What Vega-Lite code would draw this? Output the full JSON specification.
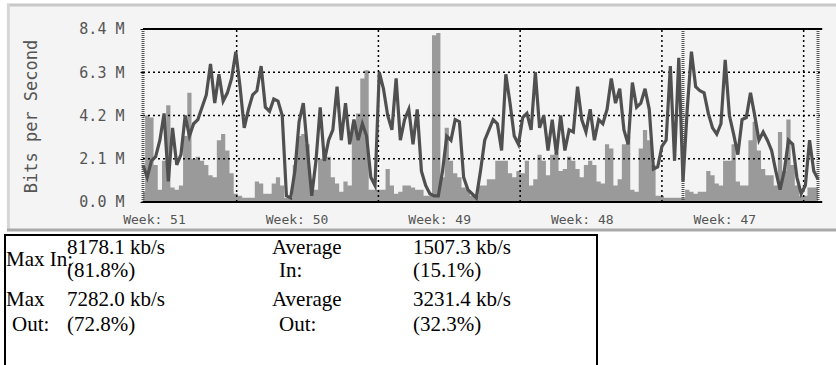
{
  "$schema": "https://vega.github.io/schema/vega-lite/v6.json",
  "padding": 0,
  "background": "white",
  "spacing": 0,
  "config": {"view": {"stroke": null}},
  "datasets": {
    "traffic": [
      {"h":0,"in":0.5,"out":1.8},{"h":5,"in":4.2,"out":1.2},{"h":10,"in":4.1,"out":2.0},{"h":15,"in":1.8,"out":2.2},
      {"h":20,"in":0.6,"out":3.0},{"h":25,"in":2.0,"out":4.3},{"h":30,"in":4.7,"out":1.0},{"h":35,"in":0.7,"out":3.6},
      {"h":40,"in":0.6,"out":1.8},{"h":45,"in":0.8,"out":2.3},{"h":50,"in":3.2,"out":4.2},{"h":55,"in":5.3,"out":3.2},
      {"h":60,"in":2.1,"out":3.8},{"h":65,"in":2.2,"out":4.0},{"h":70,"in":2.0,"out":4.6},{"h":75,"in":1.8,"out":5.2},
      {"h":80,"in":1.3,"out":6.7},{"h":85,"in":1.2,"out":4.8},{"h":90,"in":3.0,"out":6.2},{"h":95,"in":3.3,"out":4.9},
      {"h":100,"in":2.5,"out":5.3},{"h":105,"in":1.4,"out":6.0},{"h":110,"in":0.4,"out":7.3},{"h":115,"in":0.3,"out":5.6},
      {"h":120,"in":0.2,"out":3.6},{"h":125,"in":0.2,"out":4.5},{"h":130,"in":0.2,"out":5.2},{"h":135,"in":1.0,"out":5.4},
      {"h":140,"in":0.9,"out":6.6},{"h":145,"in":0.4,"out":4.6},{"h":150,"in":0.4,"out":4.4},{"h":155,"in":0.9,"out":5.0},
      {"h":160,"in":1.2,"out":4.9},{"h":165,"in":0.8,"out":4.2},{"h":170,"in":0.2,"out":0.3},{"h":175,"in":0.2,"out":0.2},
      {"h":180,"in":1.8,"out":1.5},{"h":185,"in":3.2,"out":3.9},{"h":190,"in":3.3,"out":4.8},{"h":195,"in":2.8,"out":2.5},
      {"h":200,"in":1.0,"out":0.3},{"h":205,"in":0.6,"out":2.0},{"h":210,"in":2.1,"out":4.6},{"h":215,"in":2.4,"out":2.0},
      {"h":220,"in":2.2,"out":3.0},{"h":225,"in":1.2,"out":3.5},{"h":230,"in":0.9,"out":5.6},{"h":235,"in":0.5,"out":3.0},
      {"h":240,"in":1.0,"out":4.8},{"h":245,"in":0.8,"out":2.8},{"h":250,"in":3.8,"out":4.0},{"h":255,"in":4.3,"out":3.0},
      {"h":260,"in":6.0,"out":3.8},{"h":265,"in":6.4,"out":3.2},{"h":270,"in":0.6,"out":1.2},{"h":275,"in":0.6,"out":0.8},
      {"h":280,"in":0.6,"out":6.3},{"h":285,"in":0.6,"out":5.5},{"h":290,"in":1.6,"out":4.2},{"h":295,"in":0.8,"out":3.5},
      {"h":300,"in":0.4,"out":6.0},{"h":305,"in":0.5,"out":3.0},{"h":310,"in":0.8,"out":4.0},{"h":315,"in":0.8,"out":4.5},
      {"h":320,"in":0.7,"out":2.8},{"h":325,"in":0.6,"out":4.5},{"h":330,"in":0.6,"out":1.5},{"h":335,"in":0.3,"out":0.8},
      {"h":340,"in":0.3,"out":0.4},{"h":345,"in":8.1,"out":0.3},{"h":350,"in":8.2,"out":0.3},{"h":355,"in":1.2,"out":1.5},
      {"h":360,"in":3.6,"out":3.2},{"h":365,"in":2.0,"out":3.0},{"h":370,"in":1.4,"out":4.0},{"h":375,"in":1.2,"out":3.9},
      {"h":380,"in":0.7,"out":1.2},{"h":385,"in":0.6,"out":0.6},{"h":390,"in":0.3,"out":0.4},{"h":395,"in":0.3,"out":0.2},
      {"h":400,"in":0.8,"out":1.5},{"h":405,"in":0.8,"out":3.0},{"h":410,"in":1.1,"out":3.5},{"h":415,"in":1.1,"out":4.0},
      {"h":420,"in":2.0,"out":3.8},{"h":425,"in":2.0,"out":2.5},{"h":430,"in":2.0,"out":6.2},{"h":435,"in":1.4,"out":4.8},
      {"h":440,"in":1.2,"out":3.2},{"h":445,"in":1.5,"out":2.8},{"h":450,"in":1.4,"out":4.1},{"h":455,"in":2.0,"out":4.3},
      {"h":460,"in":0.8,"out":3.5},{"h":465,"in":1.1,"out":6.3},{"h":470,"in":2.3,"out":3.6},{"h":475,"in":2.0,"out":4.2},
      {"h":480,"in":1.3,"out":2.5},{"h":485,"in":2.3,"out":4.0},{"h":490,"in":2.4,"out":2.3},{"h":495,"in":1.5,"out":4.2},
      {"h":500,"in":1.6,"out":2.5},{"h":505,"in":2.2,"out":3.5},{"h":510,"in":2.0,"out":3.4},{"h":515,"in":1.6,"out":5.6},
      {"h":520,"in":1.2,"out":4.0},{"h":525,"in":1.8,"out":3.4},{"h":530,"in":2.0,"out":4.5},{"h":535,"in":1.8,"out":3.0},
      {"h":540,"in":1.0,"out":4.0},{"h":545,"in":0.9,"out":3.8},{"h":550,"in":2.8,"out":4.5},{"h":555,"in":2.6,"out":6.0},
      {"h":560,"in":0.8,"out":4.8},{"h":565,"in":1.1,"out":5.5},{"h":570,"in":2.8,"out":3.5},{"h":575,"in":3.2,"out":2.8},
      {"h":580,"in":0.6,"out":5.8},{"h":585,"in":0.5,"out":4.6},{"h":590,"in":2.6,"out":4.8},{"h":595,"in":3.5,"out":5.5},
      {"h":600,"in":3.0,"out":4.5},{"h":605,"in":1.8,"out":1.6},{"h":610,"in":0.3,"out":1.7},{"h":615,"in":0.3,"out":2.7},
      {"h":620,"in":0.2,"out":3.0},{"h":625,"in":0.2,"out":6.6},{"h":630,"in":0.2,"out":2.0},{"h":635,"in":0.2,"out":7.0},
      {"h":640,"in":0.2,"out":1.0},{"h":645,"in":0.6,"out":4.5},{"h":650,"in":0.5,"out":7.3},{"h":655,"in":0.4,"out":5.6},
      {"h":660,"in":0.5,"out":5.4},{"h":665,"in":0.5,"out":5.3},{"h":670,"in":1.5,"out":4.3},{"h":675,"in":1.3,"out":3.6},
      {"h":680,"in":0.9,"out":3.3},{"h":685,"in":0.8,"out":3.8},{"h":690,"in":2.0,"out":6.9},{"h":695,"in":2.0,"out":4.2},
      {"h":700,"in":2.8,"out":3.3},{"h":705,"in":1.0,"out":2.3},{"h":710,"in":0.8,"out":4.0},{"h":715,"in":0.8,"out":4.1},
      {"h":720,"in":3.0,"out":5.3},{"h":725,"in":3.9,"out":4.2},{"h":730,"in":2.5,"out":3.0},{"h":735,"in":1.6,"out":3.4},
      {"h":740,"in":1.3,"out":3.0},{"h":745,"in":1.3,"out":2.5},{"h":750,"in":0.8,"out":1.5},{"h":755,"in":3.4,"out":0.6},
      {"h":760,"in":1.5,"out":1.5},{"h":765,"in":4.0,"out":3.0},{"h":770,"in":1.8,"out":2.8},{"h":775,"in":0.8,"out":1.2},
      {"h":780,"in":0.3,"out":0.4},{"h":785,"in":0.3,"out":0.8},{"h":790,"in":0.7,"out":3.0},{"h":795,"in":0.7,"out":1.5},
      {"h":800,"in":0.7,"out":1.1}
    ],
    "grid": [{"v":2.1},{"v":4.2},{"v":6.3}],
    "weeks": [{"h":111},{"h":279},{"h":447},{"h":615},{"h":783}],
    "markers": [{"h":0},{"h":640},{"h":800}],
    "one": [{}],
    "table": [
      {"c":1,"l":1.5,"t":"Max In:"},
      {"c":2,"l":1,"t":"8178.1 kb/s"},
      {"c":2,"l":2,"t":"(81.8%)"},
      {"c":3,"l":1,"t":"Average"},
      {"c":3.05,"l":2,"t":"In:"},
      {"c":4,"l":1,"t":"1507.3 kb/s"},
      {"c":4,"l":2,"t":"(15.1%)"},
      {"c":1,"l":3,"t":"Max"},
      {"c":1.1,"l":4,"t":"Out:"},
      {"c":2,"l":3,"t":"7282.0 kb/s"},
      {"c":2,"l":4,"t":"(72.8%)"},
      {"c":3,"l":3,"t":"Average"},
      {"c":3.05,"l":4,"t":"Out:"},
      {"c":4,"l":3,"t":"3231.4 kb/s"},
      {"c":4,"l":4,"t":"(32.3%)"}
    ]
  },
  "vconcat": [
    {
      "width": 836,
      "height": 232,
      "resolve": {"axis": {"x": "independent", "y": "independent"}},
      "layer": [
        {
          "data": {"name": "one"},
          "mark": {"type": "rect", "fill": "#f4f4f4"},
          "encoding": {
            "x": {"datum": -161.2, "type": "quantitative", "scale": {"domain": [-169.48, 821.33], "nice": false, "zero": false}, "axis": null},
            "x2": {"datum": 821.33},
            "y": {"datum": 9.614, "type": "quantitative", "scale": {"domain": [-1.457, 9.808], "nice": false, "zero": false}, "axis": null},
            "y2": {"datum": -1.36}
          }
        },
        {
          "data": {"name": "one"},
          "mark": {"type": "rule", "color": "#c8c8c8", "strokeWidth": 3},
          "encoding": {
            "x": {"datum": -161.2, "type": "quantitative", "axis": null},
            "x2": {"datum": 821.33},
            "y": {"datum": 9.56, "type": "quantitative", "axis": null}
          }
        },
        {
          "data": {"name": "one"},
          "mark": {"type": "rule", "color": "#d6d6d6", "strokeWidth": 3},
          "encoding": {
            "x": {"datum": -159.6, "type": "quantitative", "axis": null},
            "y": {"datum": 9.614, "type": "quantitative", "axis": null},
            "y2": {"datum": -1.36}
          }
        },
        {
          "data": {"name": "one"},
          "mark": {"type": "rule", "color": "#a9a9a9", "strokeWidth": 3},
          "encoding": {
            "x": {"datum": -161.2, "type": "quantitative", "axis": null},
            "x2": {"datum": 821.33},
            "y": {"datum": -1.36, "type": "quantitative", "axis": null}
          }
        },
        {
          "data": {"name": "traffic"},
          "mark": {"type": "area", "color": "#9a9a9a", "interpolate": "step"},
          "encoding": {
            "x": {
              "field": "h", "type": "quantitative",
              "axis": {
                "orient": "bottom", "offset": -30, "values": [13, 182, 351, 520, 689], "zindex": 2,
                "labelExpr": "'Week: ' + (51 - round((datum.value - 13) / 169))",
                "domain": false, "ticks": false, "grid": false, "title": null,
                "labelFont": "DejaVu Sans Mono", "labelFontSize": 13, "labelColor": "#555",
                "labelPadding": 11, "labelOverlap": false, "labelFlush": false
              }
            },
            "y": {
              "field": "in", "type": "quantitative",
              "axis": {
                "orient": "left", "offset": -143, "values": [0, 2.1, 4.2, 6.3, 8.4], "zindex": 2,
                "labelExpr": "format(datum.value, '.1f') + ' M'",
                "domain": false, "ticks": true, "tickSize": 3, "tickColor": "#000", "grid": false,
                "title": "Bits per Second", "titleFont": "DejaVu Sans Mono", "titleFontSize": 17,
                "titleFontWeight": "normal", "titleColor": "#555", "titlePadding": 38,
                "labelFont": "DejaVu Sans Mono", "labelFontSize": 15, "labelColor": "#555",
                "labelPadding": 16, "labelOverlap": false, "labelFlush": false
              }
            },
            "y2": {"datum": 0}
          }
        },
        {
          "data": {"name": "grid"},
          "mark": {"type": "rule", "color": "#000", "strokeWidth": 1.5, "strokeDash": [2, 3]},
          "encoding": {
            "y": {"field": "v", "type": "quantitative", "axis": null},
            "x": {"datum": 0, "type": "quantitative", "axis": null},
            "x2": {"datum": 805}
          }
        },
        {
          "data": {"name": "weeks"},
          "mark": {"type": "rule", "color": "#000", "strokeWidth": 1.5, "strokeDash": [2, 3]},
          "encoding": {
            "x": {"field": "h", "type": "quantitative", "axis": null},
            "y": {"datum": 0, "type": "quantitative", "axis": null},
            "y2": {"datum": 8.4}
          }
        },
        {
          "data": {"name": "traffic"},
          "mark": {"type": "line", "color": "#505050", "strokeWidth": 3.2},
          "encoding": {
            "x": {"field": "h", "type": "quantitative", "axis": null},
            "y": {"field": "out", "type": "quantitative", "axis": null}
          }
        },
        {
          "data": {"name": "markers"},
          "mark": {"type": "rule", "color": "#555", "strokeWidth": 3, "strokeDash": [1, 1]},
          "encoding": {
            "x": {"field": "h", "type": "quantitative", "axis": null},
            "y": {"datum": 0, "type": "quantitative", "axis": null},
            "y2": {"datum": 8.4}
          }
        },
        {
          "data": {"name": "one"},
          "mark": {"type": "rule", "color": "#000", "strokeWidth": 2},
          "encoding": {
            "x": {"datum": 0, "type": "quantitative", "axis": null},
            "x2": {"datum": 805},
            "y": {"datum": 8.4, "type": "quantitative", "axis": null}
          }
        },
        {
          "data": {"name": "one"},
          "mark": {"type": "rule", "color": "#000", "strokeWidth": 2},
          "encoding": {
            "x": {"datum": 0, "type": "quantitative", "axis": null},
            "x2": {"datum": 805},
            "y": {"datum": 0, "type": "quantitative", "axis": null}
          }
        }
      ]
    },
    {
      "width": 836,
      "height": 133,
      "layer": [
        {
          "data": {"name": "one"},
          "mark": {"type": "rect", "fill": "transparent", "stroke": "#000", "strokeWidth": 2, "clip": true},
          "encoding": {
            "x": {"datum": 0, "type": "quantitative", "scale": {"domain": [0, 1, 2, 3, 4, 5], "range": [5, 6, 67, 272, 413, 597], "nice": false, "zero": false}, "axis": null},
            "x2": {"datum": 5},
            "y": {"datum": 0, "type": "quantitative", "scale": {"domain": [0, 1, 2, 3, 4, 5], "range": [3, 16, 39, 68, 93, 150], "nice": false, "zero": false}, "axis": null},
            "y2": {"datum": 5}
          }
        },
        {
          "data": {"name": "table"},
          "mark": {"type": "text", "align": "left", "baseline": "middle", "font": "Liberation Serif", "fontSize": 21, "color": "#000"},
          "encoding": {
            "x": {"field": "c", "type": "quantitative", "axis": null},
            "y": {"field": "l", "type": "quantitative", "axis": null},
            "text": {"field": "t"}
          }
        }
      ]
    }
  ]
}
